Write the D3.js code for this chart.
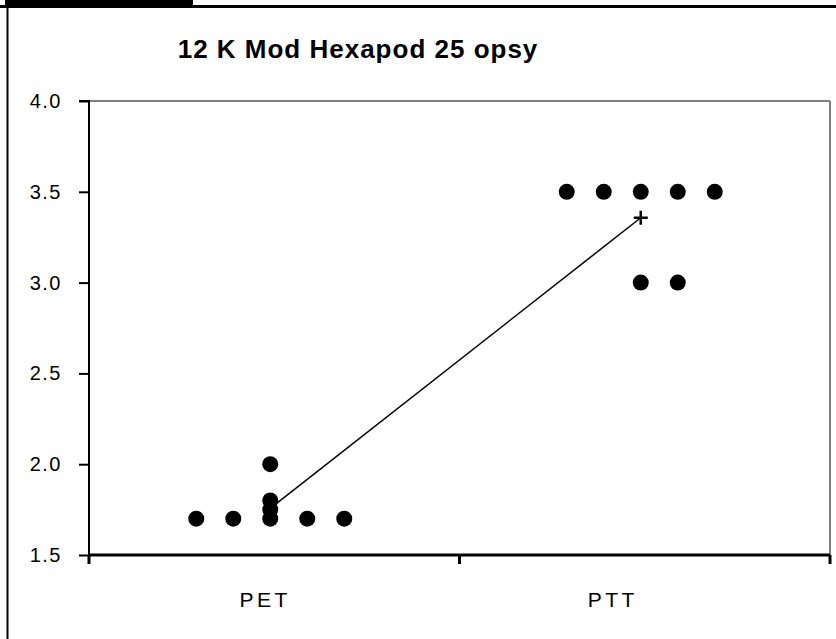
<!DOCTYPE html>
<html><head><meta charset="utf-8">
<script src="https://cdn.jsdelivr.net/npm/d3@7"></script>
<style>
html,body{margin:0;padding:0;background:#fdfdfd;}
text{font-family:"Liberation Sans",Arial,sans-serif;}
</style></head>
<body>
<script>
const title = "12 K  Mod Hexapod 25 opsy";
const categories = ["PET", "PTT"];
const petValues = [1.7, 1.7, 1.7, 1.7, 1.7, 1.75, 1.8, 2.0];
const petSlots  = [-2, -1, 0, 1, 2, 0, 0, 0];
const pttValues = [3.5, 3.5, 3.5, 3.5, 3.5, 3.0, 3.0];
const pttSlots  = [-2, -1, 0, 1, 2, 0, 1];
const yTicks = [1.5, 2.0, 2.5, 3.0, 3.5, 4.0];

const W = 836, H = 639;
const svg = d3.select("body").append("svg").attr("width", W).attr("height", H);

// outer frame
svg.append("rect").attr("x",0).attr("y",0).attr("width",W).attr("height",H).attr("fill","#fdfdfd");
svg.append("rect").attr("x",7).attr("y",7).attr("width",W).attr("height",H).attr("fill","#ffffff");
svg.append("line").attr("x1",0).attr("x2",W).attr("y1",6.5).attr("y2",6.5).attr("stroke","#000").attr("stroke-width",3);
svg.append("rect").attr("x",5).attr("y",0).attr("width",188).attr("height",7).attr("fill","#000");
svg.append("line").attr("x1",7.5).attr("x2",7.5).attr("y1",6).attr("y2",H).attr("stroke","#000").attr("stroke-width",2);

const pLeft = 89, pRight = 830, pTop = 101, pBottom = 555;
const x = d3.scaleBand().domain(categories).range([pLeft, pRight]);
const y = d3.scaleLinear().domain([1.5, 4.0]).range([pBottom, pTop]);
const slotW = 37, shift = -4;

// title
svg.append("text").attr("x", 358).attr("y", 58).attr("text-anchor","middle")
  .style("font-family","'Liberation Sans Narrow','Liberation Sans',Arial,sans-serif")
  .style("font-weight","bold").style("font-size","26px").style("letter-spacing","1px")
  .attr("fill","#000").text(title);

// plot border (top & right grey)
svg.append("line").attr("x1",pLeft).attr("x2",pRight).attr("y1",pTop).attr("y2",pTop).attr("stroke","#808080").attr("stroke-width",2);
svg.append("line").attr("x1",pRight).attr("x2",pRight).attr("y1",pTop).attr("y2",pBottom).attr("stroke","#808080").attr("stroke-width",2);

// y axis
const yAxis = d3.axisLeft(y).tickValues(yTicks).tickFormat(d3.format(".1f")).tickSize(10).tickPadding(17);
const gy = svg.append("g").attr("transform",`translate(${pLeft},0)`).call(yAxis);
gy.attr("font-size", null).attr("font-family", null);
gy.select(".domain").attr("stroke","#000").attr("stroke-width",2).attr("d",`M-10,${pTop}H0V${pBottom+3}`);
gy.selectAll(".tick line").attr("stroke","#000").attr("stroke-width",2);
gy.selectAll(".tick text").style("font-size","20px").style("letter-spacing","1.5px")
  .attr("fill","#000").style("font-family","'Liberation Sans',Arial,sans-serif");

// x axis
const xAxis = d3.axisBottom(x).tickSize(0).tickFormat("");
const gx = svg.append("g").attr("transform",`translate(0,${pBottom})`).call(xAxis);
gx.select(".domain").attr("stroke","#000").attr("stroke-width",3).attr("d",`M${pLeft},0H${pRight}`);
const bounds = [pLeft, (pLeft+pRight)/2, pRight];
gx.selectAll(".sep").data(bounds).join("line").attr("class","sep")
  .attr("x1",d=>d).attr("x2",d=>d).attr("y1",0).attr("y2",9).attr("stroke","#000").attr("stroke-width",3);
const labelShift = [-9, -32];
svg.selectAll(".xlab").data(categories).join("text").attr("class","xlab")
  .attr("x",(d,i)=>x(d)+x.bandwidth()/2+labelShift[i]).attr("y",607)
  .attr("text-anchor","middle").style("font-size","21px").style("letter-spacing","3.5px").attr("fill","#000").text(d=>d);

// points
const pts = [];
petValues.forEach((v,i)=>pts.push({c:"PET",v,s:petSlots[i]}));
pttValues.forEach((v,i)=>pts.push({c:"PTT",v,s:pttSlots[i]}));
const cx = d => x(d.c)+x.bandwidth()/2+shift+d.s*slotW;

// mean line
const means = [{c:"PET",v:d3.mean(petValues)},{c:"PTT",v:d3.mean(pttValues)}];
svg.append("path").datum(means)
  .attr("d", d3.line().x(d=>x(d.c)+x.bandwidth()/2+shift).y(d=>y(d.v)))
  .attr("stroke","#000").attr("stroke-width",1.5).attr("fill","none");

svg.selectAll(".pt").data(pts).join("circle").attr("class","pt")
  .attr("cx",cx).attr("cy",d=>y(d.v)).attr("r",8).attr("fill","#000");

// mean markers (+)
svg.selectAll(".mean").data(means).join("path").attr("class","mean")
  .attr("d", d=>{const mx=x(d.c)+x.bandwidth()/2+shift, my=y(d.v);
     return `M${mx-7},${my}H${mx+7}M${mx},${my-7}V${my+7}`;})
  .attr("stroke","#000").attr("stroke-width",2.5);
</script>
</body></html>
